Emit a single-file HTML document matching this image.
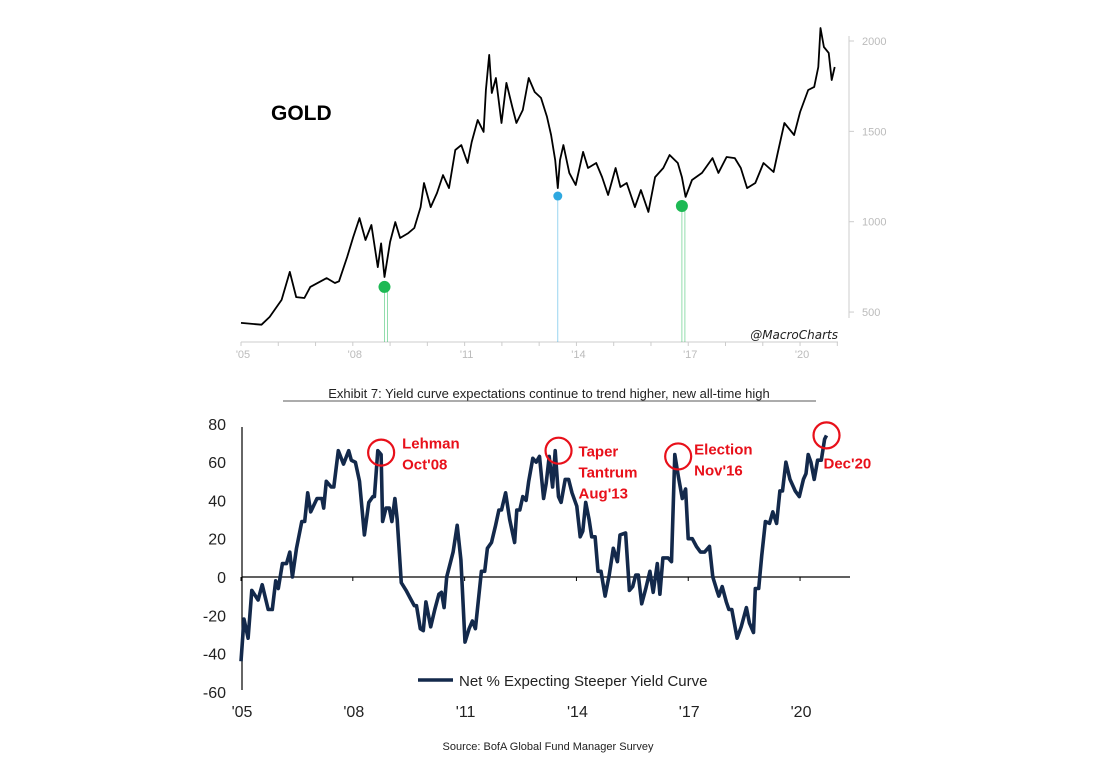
<!DOCTYPE html>
<html><head><meta charset="utf-8"><style>
body{margin:0;background:#fff;width:1100px;height:770px;overflow:hidden}
svg{display:block}
</style></head><body>
<svg width="1100" height="770" xmlns="http://www.w3.org/2000/svg">
<g id="topG"></g>
<g id="botG"></g>
</svg>
<script>
// ---- GOLD data ----
const goldYears=[2005.00,2005.55,2005.77,2006.09,2006.31,2006.48,2006.70,2006.86,2007.30,2007.52,2007.63,2007.85,2008.01,2008.18,2008.34,2008.50,2008.67,2008.76,2008.85,2009.00,2009.14,2009.27,2009.49,2009.65,2009.82,2009.91,2010.09,2010.26,2010.42,2010.58,2010.75,2010.91,2011.08,2011.19,2011.35,2011.51,2011.57,2011.66,2011.73,2011.84,2011.99,2012.12,2012.28,2012.39,2012.56,2012.72,2012.88,2013.05,2013.21,2013.32,2013.43,2013.50,2013.56,2013.65,2013.81,2013.98,2014.18,2014.31,2014.53,2014.69,2014.85,2015.05,2015.18,2015.35,2015.57,2015.73,2015.93,2016.11,2016.33,2016.50,2016.72,2016.83,2016.93,2017.10,2017.37,2017.65,2017.81,2018.03,2018.25,2018.41,2018.58,2018.80,2019.02,2019.29,2019.40,2019.58,2019.84,2020.00,2020.22,2020.38,2020.49,2020.55,2020.64,2020.77,2020.85,2020.93];
const goldPrices=[440,430,473,567,722,583,578,639,688,661,670,805,915,1020,899,982,749,880,694,888,998,910,937,965,1081,1214,1081,1159,1258,1186,1397,1424,1325,1441,1563,1497,1729,1923,1712,1795,1546,1768,1635,1546,1618,1795,1718,1685,1580,1480,1341,1186,1341,1424,1270,1203,1386,1297,1325,1247,1148,1297,1192,1214,1081,1175,1054,1247,1297,1369,1325,1247,1137,1231,1270,1352,1270,1358,1352,1297,1186,1214,1325,1275,1380,1546,1480,1607,1729,1746,1856,2072,1967,1934,1784,1856];
const goldTicks=[500,1000,1500,2000];
const xTickLabels=["'05","'08","'11","'14","'17","'20"];
const xTickYears=[2005,2008,2011,2014,2017,2020];
const goldMarkers=[{year:2008.85,price:639,color:"#1db954",r:6},{year:2013.50,price:1142,color:"#2ea8e0",r:4.5},{year:2016.83,price:1087,color:"#1db954",r:6}];
// ---- Yield curve data ----
const ycYears=[2005.00,2005.08,2005.19,2005.29,2005.46,2005.57,2005.73,2005.84,2005.93,2006.00,2006.11,2006.22,2006.31,2006.38,2006.49,2006.63,2006.71,2006.79,2006.87,2007.04,2007.17,2007.22,2007.29,2007.42,2007.49,2007.61,2007.75,2007.89,2007.96,2008.07,2008.18,2008.31,2008.43,2008.54,2008.58,2008.67,2008.76,2008.80,2008.89,2008.98,2009.05,2009.13,2009.19,2009.30,2009.43,2009.54,2009.65,2009.71,2009.81,2009.89,2009.96,2010.09,2010.20,2010.31,2010.38,2010.45,2010.52,2010.69,2010.80,2010.90,2011.01,2011.12,2011.21,2011.29,2011.45,2011.54,2011.61,2011.72,2011.83,2011.92,2011.99,2012.10,2012.21,2012.34,2012.40,2012.48,2012.56,2012.65,2012.72,2012.83,2012.92,2013.01,2013.12,2013.19,2013.27,2013.36,2013.43,2013.52,2013.59,2013.70,2013.79,2013.88,2014.01,2014.10,2014.17,2014.25,2014.34,2014.41,2014.50,2014.58,2014.66,2014.77,2014.88,2014.99,2015.10,2015.17,2015.32,2015.42,2015.51,2015.59,2015.66,2015.75,2015.86,2015.97,2016.06,2016.17,2016.24,2016.32,2016.46,2016.55,2016.64,2016.73,2016.84,2016.93,2017.00,2017.11,2017.22,2017.33,2017.44,2017.57,2017.66,2017.77,2017.82,2017.91,2018.02,2018.09,2018.17,2018.31,2018.42,2018.56,2018.64,2018.75,2018.80,2018.89,2018.97,2019.07,2019.18,2019.27,2019.37,2019.46,2019.53,2019.62,2019.73,2019.87,2019.98,2020.09,2020.16,2020.22,2020.29,2020.38,2020.47,2020.57,2020.66,2020.71];
const ycValues=[-44,-22,-32,-7,-12,-4,-17,-17,-2,-6,7,7,13,0,15,29,29,44,34,41,41,36,50,47,47,66,59,66,61,60,50,22,39,42,42,66,64,29,36,36,29,41,30,-3,-7,-11,-15,-15,-27,-28,-13,-26,-17,-9,-8,-16,0,13,27,9,-34,-27,-23,-27,3,3,15,18,27,35,35,44,30,18,35,35,42,40,50,62,60,63,41,49,63,47,66,42,39,51,51,44,37,21,24,39,30,21,21,3,3,-10,1,15,8,22,23,-7,-5,1,1,-14,-6,3,-8,7,-9,10,10,8,64,53,41,46,20,20,16,13,13,16,0,-7,-10,-5,-13,-17,-17,-32,-26,-16,-24,-29,-6,-6,11,29,28,34,28,45,45,60,51,45,42,51,54,64,60,51,61,61,72,74];
const ycTicks=[-60,-40,-20,0,20,40,60,80];
const annotations=[{year:2008.76,value:65,lines:["Lehman","Oct'08"],dx:21,dy:-4},{year:2013.52,value:66,lines:["Taper","Tantrum","Aug'13"],dx:20,dy:6},{year:2016.73,value:63,lines:["Election","Nov'16"],dx:16,dy:-2},{year:2020.71,value:74,lines:["Dec'20"],dx:-3,dy:33}];

const NS="http://www.w3.org/2000/svg";
function mk(parent,tag,attrs,text){const e=document.createElementNS(NS,tag);for(const k in attrs)e.setAttribute(k,attrs[k]);if(text!==undefined)e.textContent=text;parent.appendChild(e);return e;}
const xs=y=>241+(y-2005)*37.27;
const gy=v=>41+(2000-v)*0.1807;
const yy=v=>577-v*1.914;
const topG=document.getElementById('topG'), botG=document.getElementById('botG');

// ---- top chart ----
let t=mk(topG,'text',{x:271,y:120,'font-family':'Liberation Sans, sans-serif','font-size':21,'font-weight':'bold',fill:'#000'},'GOLD');


let ax=mk(topG,'line',{x1:241,y1:342,x2:838,y2:342,stroke:'#ccc','stroke-width':1});


for(let y=2005;y<=2021;y++){let tk=mk(topG,'line',{x1:xs(y),y1:342,x2:xs(y),y2:346,stroke:'#ccc'});

}
xTickYears.forEach((y,i)=>{let l=mk(topG,'text',{x:xs(y)+2,y:358,'font-family':'Liberation Sans, sans-serif','font-size':11,fill:'#bbb','text-anchor':'middle'},xTickLabels[i]);

});
let ra=mk(topG,'line',{x1:849,y1:36,x2:849,y2:318,stroke:'#ccc'});


goldTicks.forEach(v=>{let tk=mk(topG,'line',{x1:849,y1:gy(v),x2:854,y2:gy(v),stroke:'#ccc'});


let l=mk(topG,'text',{x:862,y:gy(v)+4,'font-family':'Liberation Sans, sans-serif','font-size':11,fill:'#bbb'},String(v));

});
goldMarkers.forEach(m=>{const x=xs(m.year),y=gy(m.price);
let vl=mk(topG,'line',{x1:x,y1:y,x2:x,y2:342,stroke:m.color,'stroke-width':0.8,opacity:0.6});


if(m.r>5){let v2=mk(topG,'line',{x1:x+3,y1:y,x2:x+3,y2:342,stroke:m.color,'stroke-width':0.8,opacity:0.6});

}
});
let gp=mk(topG,'polyline',{points:goldYears.map((y,i)=>xs(y).toFixed(1)+','+gy(goldPrices[i]).toFixed(1)).join(' '),fill:'none',stroke:'#000','stroke-width':1.8,'stroke-linejoin':'round'});


goldMarkers.forEach(m=>{let c=mk(topG,'circle',{cx:xs(m.year),cy:gy(m.price),r:m.r,fill:m.color});

});
let wm=mk(topG,'text',{x:838,y:339,'font-family':'DejaVu Sans, sans-serif','font-style':'italic','font-size':12,fill:'#222','text-anchor':'end'},'@MacroCharts');



// ---- title ----
let ti=mk(botG,'text',{x:549,y:398,'font-family':'Liberation Sans, sans-serif','font-size':13,fill:'#222','text-anchor':'middle'},'Exhibit 7: Yield curve expectations continue to trend higher, new all-time high');


let ul=mk(botG,'line',{x1:283,y1:401,x2:816,y2:401,stroke:'#222','stroke-width':0.8});



// ---- bottom chart ----
let ya=mk(botG,'line',{x1:242,y1:427,x2:242,y2:690,stroke:'#000','stroke-width':1.2});


let zl=mk(botG,'line',{x1:242,y1:yy(0),x2:850,y2:yy(0),stroke:'#000','stroke-width':1.2});


xTickYears.forEach(y=>{let tk=mk(botG,'line',{x1:xs(y),y1:yy(0),x2:xs(y),y2:yy(0)+4,stroke:'#000'});

});
ycTicks.forEach(v=>{let l=mk(botG,'text',{x:226,y:yy(v)+6,'font-family':'Liberation Sans, sans-serif','font-size':16,fill:'#222','text-anchor':'end'},String(v));

});
xTickYears.forEach((y,i)=>{let l=mk(botG,'text',{x:xs(y)+1,y:717,'font-family':'Liberation Sans, sans-serif','font-size':16,fill:'#222','text-anchor':'middle'},xTickLabels[i]);

});
const nYc=Math.min(ycYears.length,ycValues.length);
const ycPts=[];for(let i=0;i<nYc;i++)ycPts.push(xs(ycYears[i]).toFixed(1)+','+yy(ycValues[i]).toFixed(1));
let yp=mk(botG,'polyline',{points:ycPts.join(' '),fill:'none',stroke:'#13294b','stroke-width':3.6,'stroke-linejoin':'round'});


annotations.forEach(a=>{const x=xs(a.year),cy=yy(a.value);
let c=mk(botG,'circle',{cx:x,cy:cy,r:13,fill:'none',stroke:'#e8101a','stroke-width':2.2});


a.lines.forEach((s,j)=>{let l=mk(botG,'text',{x:x+a.dx,y:cy+a.dy+j*21,'font-family':'Liberation Sans, sans-serif','font-size':15,'font-weight':'bold',fill:'#e8101a'},s);

});
});
let lg=mk(botG,'line',{x1:418,y1:680,x2:453,y2:680,stroke:'#13294b','stroke-width':3.6});


let lt=mk(botG,'text',{x:459,y:686,'font-family':'Liberation Sans, sans-serif','font-size':15,fill:'#222'},'Net % Expecting Steeper Yield Curve');


let src=mk(botG,'text',{x:548,y:750,'font-family':'Liberation Sans, sans-serif','font-size':11,fill:'#222','text-anchor':'middle'},'Source: BofA Global Fund Manager Survey');


</script>
</body></html>
